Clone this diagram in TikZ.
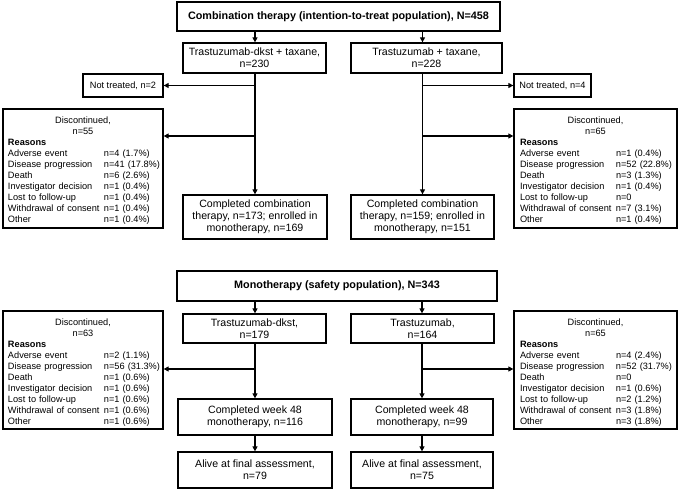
\documentclass[tikz,border=0pt]{standalone}
\usepackage{fontspec}
\setmainfont{Liberation Sans}
\usetikzlibrary{arrows.meta}
\newcommand\reasonrow[2]{\makebox[96pt][l]{#1}\mbox{#2}}
\newcommand\ctrline[1]{\makebox[\linewidth]{#1}}
\newcommand\toprule{\rule{0pt}{11pt}}
\begin{document}
\begin{tikzpicture}[x=1pt,y=-1pt,
  box/.style={draw, line width=1.3pt, inner sep=0pt, align=center,
    font=\fontsize{10.6}{12}\selectfont},
  titlebox/.style={box, font=\fontsize{10.8}{12}\bfseries\selectfont},
  smallbox/.style={box, font=\fontsize{9.2}{11}\selectfont},
  discbox/.style={draw, line width=1.3pt, inner ysep=0pt, inner xsep=5pt, align=left,
    font=\fontsize{9.2}{11}\selectfont},
  arr/.style={-{Triangle[length=5pt,width=5pt]}, line width=1.3pt}]
\useasboundingbox (0,0) rectangle (678,494);

% ---------- Combination therapy ----------
\node[titlebox, minimum width=323, minimum height=29] (top) at (338.5,16.5)
  {Combination therapy (intention-to-treat population), N=458};
\node[box, minimum width=143, minimum height=30] (tdk) at (254.5,58)
  {Trastuzumab-dkst + taxane,\\n=230};
\node[box, minimum width=151, minimum height=30] (tt) at (426.5,58)
  {Trastuzumab + taxane,\\n=228};
\node[smallbox, minimum width=80, minimum height=23] (nt1) at (123,85.5)
  {Not treated, n=2};
\node[smallbox, minimum width=77, minimum height=23] (nt2) at (552.5,85.5)
  {Not treated, n=4};
\node[discbox, text width=150, minimum height=119] (d1) at (83,168.5)
  {\toprule\ctrline{Discontinued,}\\ \ctrline{n=55}\\ \textbf{Reasons}\\
   \reasonrow{Adverse event}{n=4 (1.7\%)}\\
   \reasonrow{Disease progression}{n=41 (17.8\%)}\\
   \reasonrow{Death}{n=6 (2.6\%)}\\
   \reasonrow{Investigator decision}{n=1 (0.4\%)}\\
   \reasonrow{Lost to follow-up}{n=1 (0.4\%)}\\
   \reasonrow{Withdrawal of consent}{n=1 (0.4\%)}\\
   \reasonrow{Other}{n=1 (0.4\%)}};
\node[discbox, inner xsep=6pt, text width=151, minimum height=119] (d2) at (595.5,168.5)
  {\toprule\ctrline{Discontinued,}\\ \ctrline{n=65}\\ \textbf{Reasons}\\
   \reasonrow{Adverse event}{n=1 (0.4\%)}\\
   \reasonrow{Disease progression}{n=52 (22.8\%)}\\
   \reasonrow{Death}{n=3 (1.3\%)}\\
   \reasonrow{Investigator decision}{n=1 (0.4\%)}\\
   \reasonrow{Lost to follow-up}{n=0}\\
   \reasonrow{Withdrawal of consent}{n=7 (3.1\%)}\\
   \reasonrow{Other}{n=1 (0.4\%)}};
\node[box, minimum width=144, minimum height=44] (c1) at (255,217)
  {Completed combination\\therapy, n=173; enrolled in\\monotherapy, n=169};
\node[box, minimum width=143, minimum height=44] (c2) at (422.5,217)
  {Completed combination\\therapy, n=159; enrolled in\\monotherapy, n=151};

\draw[arr] (top.south -| c1.north) -- (tdk.north -| c1.north);
\draw[arr] (top.south -| c2.north) -- (tt.north -| c2.north);
\draw[arr] (tdk.south -| c1.north) -- (c1.north);
\draw[arr] (tt.south -| c2.north) -- (c2.north);
\draw[arr] (nt1.east -| c1.north) -- (nt1.east);
\draw[arr] (nt2.west -| c2.north) -- (nt2.west);
\draw[arr] (c1.north |- 0,136) -- (d1.east |- 0,136);
\draw[arr] (c2.north |- 0,136) -- (d2.west |- 0,136);

% ---------- Monotherapy ----------
\node[titlebox, minimum width=320, minimum height=30] (mono) at (337,286)
  {Monotherapy (safety population), N=343};
\node[box, minimum width=143, minimum height=29] (tdk2) at (254.5,328.5)
  {Trastuzumab-dkst,\\n=179};
\node[box, minimum width=143, minimum height=29] (t2) at (422.5,328.5)
  {Trastuzumab,\\n=164};
\node[discbox, text width=150, minimum height=118] (d3) at (83,370)
  {\toprule\ctrline{Discontinued,}\\ \ctrline{n=63}\\ \textbf{Reasons}\\
   \reasonrow{Adverse event}{n=2 (1.1\%)}\\
   \reasonrow{Disease progression}{n=56 (31.3\%)}\\
   \reasonrow{Death}{n=1 (0.6\%)}\\
   \reasonrow{Investigator decision}{n=1 (0.6\%)}\\
   \reasonrow{Lost to follow-up}{n=1 (0.6\%)}\\
   \reasonrow{Withdrawal of consent}{n=1 (0.6\%)}\\
   \reasonrow{Other}{n=1 (0.6\%)}};
\node[discbox, inner xsep=6pt, text width=151, minimum height=118] (d4) at (595.5,370)
  {\toprule\ctrline{Discontinued,}\\ \ctrline{n=65}\\ \textbf{Reasons}\\
   \reasonrow{Adverse event}{n=4 (2.4\%)}\\
   \reasonrow{Disease progression}{n=52 (31.7\%)}\\
   \reasonrow{Death}{n=0}\\
   \reasonrow{Investigator decision}{n=1 (0.6\%)}\\
   \reasonrow{Lost to follow-up}{n=2 (1.2\%)}\\
   \reasonrow{Withdrawal of consent}{n=3 (1.8\%)}\\
   \reasonrow{Other}{n=3 (1.8\%)}};
\node[box, minimum width=154, minimum height=36] (w1) at (255,417)
  {Completed week 48\\monotherapy, n=116};
\node[box, minimum width=142, minimum height=36] (w2) at (422,417)
  {Completed week 48\\monotherapy, n=99};
\node[box, minimum width=154, minimum height=36] (a1) at (255,470)
  {Alive at final assessment,\\n=79};
\node[box, minimum width=142, minimum height=36] (a2) at (422,470)
  {Alive at final assessment,\\n=75};

\draw[arr] (mono.south -| w1.north) -- (tdk2.north -| w1.north);
\draw[arr] (mono.south -| w2.north) -- (t2.north -| w2.north);
\draw[arr] (tdk2.south -| w1.north) -- (w1.north);
\draw[arr] (t2.south -| w2.north) -- (w2.north);
\draw[arr] (w1.south) -- (a1.north);
\draw[arr] (w2.south) -- (a2.north);
\draw[arr] (w1.north |- 0,369) -- (d3.east |- 0,369);
\draw[arr] (w2.north |- 0,369) -- (d4.west |- 0,369);
\end{tikzpicture}
\end{document}
